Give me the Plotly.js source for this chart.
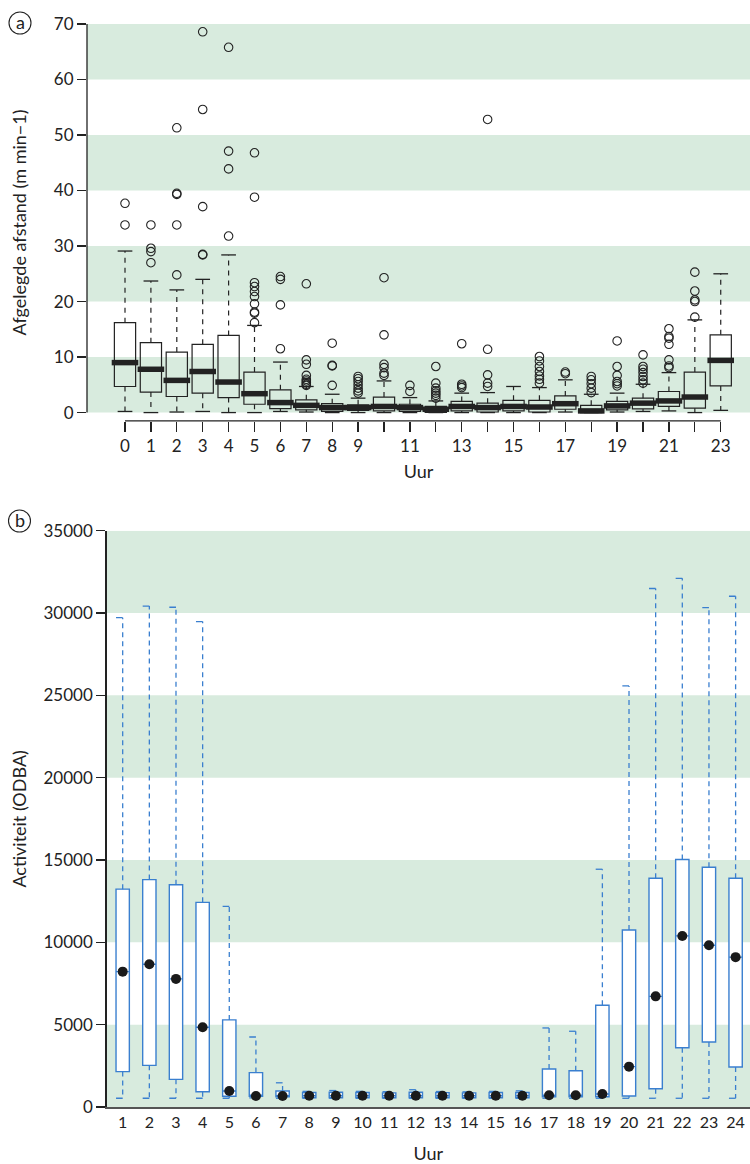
<!DOCTYPE html>
<html>
<head>
<meta charset="utf-8">
<script src="https://cdn.plot.ly/plotly-3.0.1.min.js"></script>
<style>html,body{margin:0;padding:0;background:#fff;}#chart{width:750px;height:1164px;}</style>
</head>
<body>
<div id="chart"></div>
<script>
// ---------- Panel (a): afgelegde afstand per uur ----------
const hoursA = [0,1,2,3,4,5,6,7,8,9,10,11,12,13,14,15,16,17,18,19,20,21,22,23];
const tickTextA = ["0","1","2","3","4","5","6","7","8","9","","11","","13","","15","","17","","19","","21","","23"];
const q1A  = [4.7,3.7,2.9,3.5,2.7,1.5,0.7,0.5,0.2,0.4,0.3,0.2,0.05,0.3,0.1,0.3,0.1,0.6,0.0,0.5,0.65,1.1,0.8,4.8];
const medA = [9.0,7.8,5.8,7.4,5.5,3.4,1.8,1.3,0.9,0.9,1.1,0.9,0.6,1.1,0.9,1.1,1.0,1.6,0.3,1.2,1.7,2.1,2.8,9.4];
const q3A  = [16.2,12.6,10.9,12.3,13.9,7.3,4.1,2.3,1.6,1.4,2.8,1.5,1.1,2.0,1.7,2.2,2.2,3.0,1.3,2.0,2.6,3.8,7.3,14.0];
const loA  = [0.2,0.0,0.1,0.2,0.0,0.0,0.2,0.1,0.0,0.0,0.0,0.0,0.0,0.0,0.0,0.0,0.0,0.1,0.0,0.1,0.2,0.3,0.0,0.4];
const hiA  = [29.1,23.7,22.1,24.0,28.4,15.7,9.1,4.7,3.3,2.6,5.7,2.7,2.1,3.5,3.6,4.7,4.5,5.9,3.3,3.5,5.1,7.2,16.7,25.0];
const outHourA = [0,0, 1,1,1,1, 2,2,2,2,2, 3,3,3,3,3, 4,4,4,4, 5,5,5,5,5,5,5,5,5,5, 6,6,6,6, 7,7,7,7,7,7,7,7,7, 8,8,8,8, 9,9,9,9,9,9,9, 10,10,10,10,10,10, 11,11, 12,12,12,12,12,12,12, 13,13,13,13, 14,14,14,14,14, 16,16,16,16,16,16,16, 17,17, 18,18,18,18,18, 19,19,19,19,19,19, 20,20,20,20,20,20,20, 21,21,21,21,21,21,21, 22,22,22,22,22];
const outValA  = [37.7,33.8, 33.8,29.6,29.0,27.0, 51.3,39.5,39.3,33.8,24.8, 68.6,54.6,37.1,28.5,28.4, 65.8,47.1,43.9,31.8, 46.8,38.8,23.4,22.7,21.8,20.9,19.6,18.1,17.9,16.2, 24.5,24.0,19.4,11.5, 23.2,9.5,8.7,6.7,6.0,5.7,5.4,5.1,4.9, 12.5,8.5,8.4,4.9, 6.5,6.1,5.6,5.0,4.4,3.9,3.5, 24.3,14.0,8.7,8.1,7.1,6.7, 4.9,3.8, 8.3,5.3,4.4,3.9,3.5,3.1,2.6, 12.4,5.1,4.8,4.5, 52.8,11.4,6.8,5.3,4.7, 10.1,9.3,8.3,7.4,6.6,6.0,5.3, 7.3,7.0, 6.5,5.9,5.2,4.4,3.6, 12.9,8.3,6.7,5.6,5.2,4.8, 10.4,8.3,7.8,7.2,6.5,5.9,5.3, 15.1,13.7,13.4,12.3,9.5,8.4,8.1, 25.3,21.9,20.3,20.0,17.2];
const yTicksA = [0,10,20,30,40,50,60,70];

// ---------- Panel (b): activiteit (ODBA) per uur ----------
const hoursB = [1,2,3,4,5,6,7,8,9,10,11,12,13,14,15,16,17,18,19,20,21,22,23,24];
const q1B  = [2150,2530,1680,930,650,650,620,560,560,560,560,560,560,560,560,560,620,620,620,670,1110,3600,3950,2430];
const medB = [8220,8670,7780,4840,970,670,670,680,680,680,680,680,680,680,680,680,710,710,790,2450,6720,10390,9820,9100];
const q3B  = [13230,13810,13500,12430,5290,2090,970,880,900,880,860,900,870,860,880,880,2310,2200,6180,10750,13890,15030,14560,13890];
const loB  = [530,530,530,530,530,560,530,530,530,530,530,530,530,530,530,530,530,530,530,530,530,530,530,530];
const hiB  = [29720,30420,30350,29480,12190,4250,1470,950,1000,950,930,1050,940,920,950,980,4800,4600,14440,25570,31490,32110,30330,31020];
const yTicksB = [0,5000,10000,15000,20000,25000,30000,35000];
const yTickTextB = ["0","5000","10000","15000","20000","25000","30000","35000"];

const FONT = "Lato, 'Open Sans', sans-serif";
const INK = "#222222";
const GREEN = "#d8ebde";
const BLUE = "#3a7fcf";

function segs(xs, y0s, y1s) {
  const x = [], y = [];
  xs.forEach((h, i) => { x.push(h, h, null); y.push(y0s[i], y1s[i], null); });
  return {x, y};
}
function halfCaps(xs, ys, w) {
  const x = [], y = [];
  xs.forEach((h, i) => { x.push(h - w, h, null); y.push(ys[i], ys[i], null); });
  return {x, y};
}

const traces = [];
// --- panel a ---
const upA = segs(hoursA, q3A, hiA), dnA = segs(hoursA, q1A, loA);
traces.push({type:'scatter', mode:'lines', x:upA.x.concat(dnA.x), y:upA.y.concat(dnA.y), xaxis:'x', yaxis:'y',
  line:{color:INK, width:1.2, dash:'5px,5px'}, hoverinfo:'skip', showlegend:false});
traces.push({type:'scatter', mode:'markers', x:hoursA.concat(hoursA), y:hiA.concat(loA), xaxis:'x', yaxis:'y',
  marker:{symbol:'line-ew', size:10.5, line:{color:INK, width:1.3}}, hoverinfo:'skip', showlegend:false});
traces.push({type:'box', x:hoursA, q1:q1A, median:medA, q3:q3A, lowerfence:q1A, upperfence:q3A,
  xaxis:'x', yaxis:'y', width:0.82, whiskerwidth:0, boxpoints:false,
  line:{color:INK, width:1.2}, fillcolor:'rgba(0,0,0,0)', hoverinfo:'skip', showlegend:false});
traces.push({type:'scatter', mode:'markers', x:hoursA, y:medA, xaxis:'x', yaxis:'y',
  marker:{symbol:'line-ew', size:19, line:{color:INK, width:5.5}}, hoverinfo:'skip', showlegend:false});
traces.push({type:'scatter', mode:'markers', x:outHourA, y:outValA, xaxis:'x', yaxis:'y',
  marker:{symbol:'circle-open', size:8.5, color:INK, line:{color:INK, width:1.1}}, hoverinfo:'skip', showlegend:false});

// --- panel b ---
const upB = segs(hoursB, q3B, hiB), dnB = segs(hoursB, q1B, loB);
traces.push({type:'scatter', mode:'lines', x:upB.x.concat(dnB.x), y:upB.y.concat(dnB.y), xaxis:'x2', yaxis:'y2',
  line:{color:BLUE, width:1.3, dash:'5px,4px'}, hoverinfo:'skip', showlegend:false});
const capHi = halfCaps(hoursB, hiB, 0.25), capLo = halfCaps(hoursB, loB, 0.25);
traces.push({type:'scatter', mode:'lines', x:capHi.x.concat(capLo.x), y:capHi.y.concat(capLo.y), xaxis:'x2', yaxis:'y2',
  line:{color:BLUE, width:1.3}, hoverinfo:'skip', showlegend:false});
traces.push({type:'box', x:hoursB, q1:q1B, median:medB, q3:q3B, lowerfence:q1B, upperfence:q3B,
  xaxis:'x2', yaxis:'y2', width:0.5, whiskerwidth:0, boxpoints:false,
  line:{color:BLUE, width:1.4}, fillcolor:'#ffffff', hoverinfo:'skip', showlegend:false});
traces.push({type:'scatter', mode:'markers', x:hoursB, y:medB, xaxis:'x2', yaxis:'y2',
  marker:{symbol:'circle', size:10, color:'#1a1a1a'}, hoverinfo:'skip', showlegend:false});

const shapes = [];
[[0,10],[20,30],[40,50],[60,70]].forEach(b => shapes.push({type:'rect', layer:'below', xref:'x domain', yref:'y',
  x0:0, x1:1, y0:b[0], y1:b[1], fillcolor:GREEN, line:{width:0}}));
[[0,5000],[10000,15000],[20000,25000],[30000,35000]].forEach(b => shapes.push({type:'rect', layer:'below', xref:'x2 domain', yref:'y2',
  x0:0, x1:1, y0:b[0], y1:b[1], fillcolor:GREEN, line:{width:0}}));
// R-style detached axis lines for panel a
shapes.push({type:'line', xref:'x domain', yref:'y', x0:0, x1:0, y0:0, y1:70, line:{color:INK, width:1.3}});
shapes.push({type:'line', xref:'x', yref:'y domain', x0:0, x1:23, y0:0, y1:0, line:{color:INK, width:1.3}});
// circled panel letters
shapes.push({type:'circle', xref:'paper', yref:'paper', x0:9/750, x1:31/750, y0:1-34/1164, y1:1-12/1164, line:{color:INK, width:1.1}});
shapes.push({type:'circle', xref:'paper', yref:'paper', x0:8.5/750, x1:30.5/750, y0:1-532/1164, y1:1-510/1164, line:{color:INK, width:1.1}});

const annotations = [
  {text:'a', xref:'paper', yref:'paper', x:20/750, y:1-22/1164, showarrow:false, font:{family:FONT, size:18, color:INK}, xanchor:'center', yanchor:'middle'},
  {text:'b', xref:'paper', yref:'paper', x:19.5/750, y:1-520/1164, showarrow:false, font:{family:FONT, size:18, color:INK}, xanchor:'center', yanchor:'middle'}
];

const layout = {
  width:750, height:1164,
  margin:{l:0, r:0, t:0, b:0},
  paper_bgcolor:'#ffffff', plot_bgcolor:'rgba(0,0,0,0)',
  font:{family:FONT, size:17, color:INK},
  showlegend:false,
  xaxis:{domain:[87/750,1], range:[-1.467,24.13], anchor:'y', tickmode:'array', tickvals:hoursA, ticktext:tickTextA,
    ticks:'outside', ticklen:10, tickwidth:1.3, tickcolor:INK, showline:false, showgrid:false, zeroline:false,
    tickfont:{size:17}, title:{text:'Uur', font:{size:18}, standoff:10}, fixedrange:true},
  yaxis:{domain:[1-420.9/1164, 1-24/1164], range:[-1.5,70], anchor:'x', tickmode:'array', tickvals:yTicksA,
    ticks:'outside', ticklen:9, tickwidth:1.3, tickcolor:INK, showline:false, showgrid:false, zeroline:false,
    tickfont:{size:17}, title:{text:'Afgelegde afstand (m min−1)', font:{size:18}, standoff:22}, fixedrange:true},
  xaxis2:{domain:[106.7/750,1], range:[0.4,24.54], anchor:'y2', tickmode:'array', tickvals:hoursB,
    ticks:'', showline:true, linecolor:'#555555', linewidth:2, showgrid:false, zeroline:false,
    tickfont:{size:16}, title:{text:'Uur', font:{size:18}, standoff:20}, fixedrange:true},
  yaxis2:{domain:[1-1107/1164, 1-530.7/1164], range:[0,35000], anchor:'x2', tickmode:'array', tickvals:yTicksB, ticktext:yTickTextB,
    ticks:'outside', ticklen:9, tickwidth:1.3, tickcolor:INK, showline:true, linecolor:INK, linewidth:1.5,
    showgrid:false, zeroline:false, tickfont:{size:17}, title:{text:'Activiteit (ODBA)', font:{size:18}, standoff:12}, fixedrange:true},
  shapes:shapes,
  annotations:annotations
};

Plotly.newPlot('chart', traces, layout, {displayModeBar:false, staticPlot:true});
</script>
</body>
</html>
